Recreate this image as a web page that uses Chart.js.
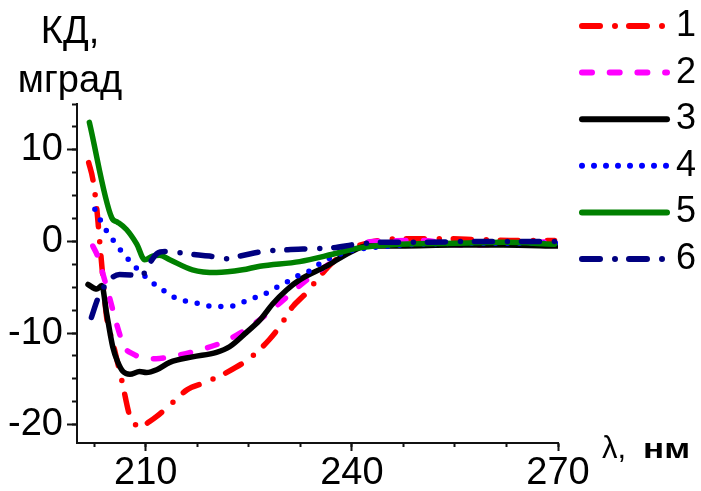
<!DOCTYPE html>
<html lang="ru">
<head>
<meta charset="UTF-8">
<title>КД спектры</title>
<script src="https://cdn.jsdelivr.net/npm/chart.js@4.4.1/dist/chart.umd.min.js"></script>
<style>
    body { margin: 0; background: #fff; }
    #grafico { display: block; }
</style>
</head>
<body>
<canvas id="grafico" width="701" height="491"></canvas>

<script>
// длина волны (нм) и КД (мград) для каждой кривой
var wl1 = [201.7, 202.3, 202.9, 203.3, 203.7, 204.3, 205.2, 206.5, 207.7, 208.5, 209.3, 210.3, 211.6, 213.9, 216.0, 218.6, 221.8, 225.4, 228.0, 229.5, 231.3, 233.4, 234.9, 237.2, 239.7, 242.6, 247, 252.8, 258.6, 264.4, 269.5];
var cd1 = [8.6, 6.8, 3.4, 0.0, -3.4, -8.2, -11.0, -15.1, -19.1, -20.0, -20.3, -19.8, -19.1, -17.6, -16.2, -15.4, -14.3, -12.6, -10.7, -9.3, -7.2, -5.6, -4.2, -2.3, -0.9, -0.1, 0.3, 0.3, 0.2, 0.1, 0.1];

var wl2 = [202.3, 203.0, 203.6, 204.8, 205.8, 206.9, 208.2, 209.6, 211.5, 213.5, 217.6, 221.5, 225.4, 229.1, 233.1, 237.2, 240.0, 243, 250, 256, 262, 269.5];
var cd2 = [-0.5, -1.6, -3.1, -6.3, -9.1, -11.5, -12.3, -12.7, -12.8, -12.6, -11.9, -10.9, -9.2, -7.0, -4.4, -2.2, -0.7, 0.0, 0.1, -0.4, -0.3, 0.0];

var wl3 = [201.6, 202.9, 203.6, 204.3, 205.2, 205.9, 206.7, 207.7, 209.1, 210.1, 211.6, 213.5, 216.8, 220.3, 222.2, 224.7, 226.6, 228.5, 230.5, 232.4, 236.3, 239.7, 242.2, 247, 255, 262, 270];
var cd3 = [-4.7, -5.2, -4.8, -7.8, -11.5, -13.1, -14.2, -14.5, -14.2, -14.3, -14.0, -13.2, -12.6, -12.1, -11.5, -9.9, -8.6, -6.8, -5.3, -4.2, -2.7, -1.2, -0.5, -0.5, -0.4, -0.4, -0.5];

var wl4 = [202.6, 204.0, 205.2, 206.5, 208.0, 209.6, 211.5, 213.1, 214.7, 216.7, 218.3, 220.0, 221.8, 223.4, 225.1, 226.9, 228.6, 230.4, 232.0, 233.9, 235.6, 237.2, 239.0, 240.7, 244.1, 250, 260, 270];
var cd4 = [3.5, 1.5, 0.2, -1.1, -2.4, -3.6, -4.8, -5.6, -6.3, -6.6, -6.9, -7.1, -7.1, -6.9, -6.3, -5.9, -5.2, -4.5, -3.8, -3.2, -2.3, -1.7, -1.2, -0.9, -0.6, -0.3, -0.2, -0.2];

var wl5 = [201.8, 205.05, 205.9, 207.2, 208.7, 209.85, 211.0, 212.0, 213.5, 216.8, 220.3, 224.1, 226.6, 232.4, 237.2, 241.1, 247, 255, 262, 269.5];
var cd5 = [13.0, 2.6, 2.1, 1.3, -0.3, -2.0, -1.6, -1.5, -2.0, -3.1, -3.4, -3.1, -2.7, -2.2, -1.4, -0.7, -0.3, -0.2, -0.1, -0.3];

var wl6 = [202.1, 203.0, 203.7, 204.3, 205.2, 206.2, 208.4, 209.4, 210.3, 211.7, 212.8, 214.5, 216.8, 219.3, 221.5, 223.7, 227.0, 230.7, 233.9, 237.2, 240.7, 244.4, 249.9, 257.2, 264.4, 269.5];
var cd6 = [-8.3, -6.3, -5.2, -4.7, -3.9, -3.6, -3.7, -3.8, -2.7, -1.3, -1.1, -1.2, -1.4, -1.6, -1.9, -1.6, -1.1, -0.9, -0.8, -0.7, -0.3, -0.1, -0.1, 0.0, 0.0, 0.0];

var nomes = ['1', '2', '3', '4', '5', '6'];
var xTicks = [210, 240, 270];
var yTicks = [-20, -10, 0, 10];

var fonte = '"Liberation Sans", Arial, sans-serif';

function pontos(xs, ys) {
    return xs.map(function (x, i) { return { x: x, y: ys[i] }; });
}

function serie(i, xs, ys, cor, tracejado) {
    return {
        label: nomes[i],
        data: pontos(xs, ys),
        borderColor: cor,
        borderWidth: 5.5,
        borderDash: tracejado,
        borderCapStyle: 'round',
        borderJoinStyle: 'round',
        pointRadius: 0,
        fill: false,
        cubicInterpolationMode: 'monotone',
        order: 6 - i
    };
}

// legenda e títulos dos eixos
var textos = {
    id: 'textos',
    afterDraw: function (chart) {
        var c = chart.ctx;
        c.save();
        c.fillStyle = '#000';
        c.font = '38px ' + fonte;
        c.textAlign = 'center';
        c.textBaseline = 'alphabetic';
        c.fillText('КД,', 70, 43);
        c.fillText('мград', 70, 92);

        c.textAlign = 'left';
        c.font = '31px ' + fonte;
        c.fillText('λ,', 602, 458);
        c.save();
        c.translate(643, 458);
        c.scale(1.25, 1);
        c.font = 'bold 28px ' + fonte;
        c.fillText('нм', 0, 0);
        c.restore();

        chart.data.datasets.forEach(function (ds, i) {
            var y = 26 + i * 46.6;
            c.beginPath();
            c.strokeStyle = ds.borderColor;
            c.lineWidth = 6;
            c.lineCap = 'round';
            c.setLineDash(ds.borderDash);
            c.moveTo(582, y);
            c.lineTo(667, y);
            c.stroke();
            c.setLineDash([]);
            c.font = '36px ' + fonte;
            c.textBaseline = 'middle';
            c.fillText(ds.label, 676, y);
        });
        c.restore();
    }
};

var ctx = document.getElementById('grafico').getContext('2d');
var grafico = new Chart(ctx, {
    type: 'line',
    data: {
        datasets: [
            serie(0, wl1, cd1, '#ff0000', [18, 15, 0, 14]),
            serie(1, wl2, cd2, '#ff00ff', [10, 17.7]),
            serie(2, wl3, cd3, '#000000', []),
            serie(3, wl4, cd4, '#0000ff', [0, 12]),
            serie(4, wl5, cd5, '#008000', []),
            serie(5, wl6, cd6, '#000080', [18, 15, 0, 14])
        ]
    },
    options: {
        responsive: false,
        animation: false,
        layout: { padding: { left: 0, right: 143, top: 104, bottom: 0 } },
        plugins: {
            legend: { display: false },
            tooltip: { enabled: false }
        },
        scales: {
            x: {
                type: 'linear',
                position: 'bottom',
                weight: 1,
                min: 200,
                max: 270,
                afterBuildTicks: function (axis) {
                    axis.ticks = xTicks.map(function (v) { return { value: v }; });
                },
                afterFit: function (axis) { axis.height = 48; },
                grid: { drawOnChartArea: false, tickLength: 8, tickWidth: 2, tickColor: '#111' },
                border: { display: true, width: 2, color: '#111' },
                ticks: {
                    color: '#000',
                    padding: 0,
                    maxRotation: 0,
                    font: { family: fonte, size: 38 },
                    callback: function (v) { return String(v); }
                }
            },
            xMinor: {
                type: 'linear',
                position: 'bottom',
                weight: 0,
                min: 200,
                max: 270,
                afterFit: function (axis) { axis.height = 0; },
                grid: { drawOnChartArea: false, tickLength: 4, tickWidth: 2, tickColor: '#111' },
                border: { display: false },
                ticks: { display: false, stepSize: 7.5, includeBounds: false }
            },
            y: {
                type: 'linear',
                position: 'left',
                weight: 1,
                min: -22,
                max: 15,
                afterBuildTicks: function (axis) {
                    axis.ticks = yTicks.map(function (v) { return { value: v }; });
                },
                afterFit: function (axis) { axis.width = 77; },
                grid: { drawOnChartArea: false, tickLength: 10, tickWidth: 2, tickColor: '#111' },
                border: { display: true, width: 2, color: '#111' },
                ticks: {
                    color: '#000',
                    padding: 4,
                    font: { family: fonte, size: 38 },
                    callback: function (v) { return String(v); }
                }
            },
            yMinor: {
                type: 'linear',
                position: 'left',
                weight: 0,
                min: -22,
                max: 15,
                afterFit: function (axis) { axis.width = 0; },
                grid: { drawOnChartArea: false, tickLength: 5, tickWidth: 2, tickColor: '#111' },
                border: { display: false },
                ticks: { display: false, stepSize: 2.5, includeBounds: false }
            }
        }
    },
    plugins: [textos]
});
</script>
</body>
</html>
